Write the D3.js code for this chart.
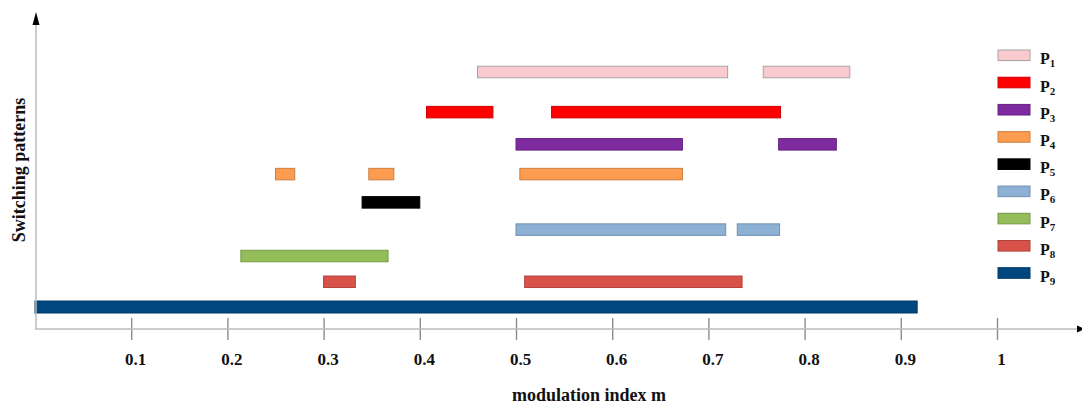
<!DOCTYPE html>
<html><head><meta charset="utf-8">
<script src="https://cdn.jsdelivr.net/npm/d3@7"></script>
<style>html,body{margin:0;padding:0;background:#fff;} svg{display:block;}</style>
</head><body><svg id="chart" width="1082" height="408"></svg>
<script>
// ---- data ----
const patterns   = ["P1","P2","P3","P4","P5","P6","P7","P8","P9"];
const subscripts = ["1","2","3","4","5","6","7","8","9"];
const patternColors = ["#f9cbcf","#ff0000","#7e2ba0","#fc9c50","#000000","#8db1d5","#93bd58","#d9524a","#00467f"];
// intervals of modulation index m where each pattern is used: [start, end]
const segP1 = [[0.460,0.720],[0.757,0.847]];
const segP2 = [[0.407,0.476],[0.537,0.775]];
const segP3 = [[0.500,0.673],[0.773,0.833]];
const segP4 = [[0.250,0.270],[0.347,0.373],[0.504,0.673]];
const segP5 = [[0.340,0.400]];
const segP6 = [[0.500,0.718],[0.730,0.774]];
const segP7 = [[0.214,0.367]];
const segP8 = [[0.300,0.333],[0.509,0.735]];
const segP9 = [[0.000,0.917]];
const segments = [segP1,segP2,segP3,segP4,segP5,segP6,segP7,segP8,segP9];
const xTicks = [0.1,0.2,0.3,0.4,0.5,0.6,0.7,0.8,0.9,1];
const xTickLabels = ["0.1","0.2","0.3","0.4","0.5","0.6","0.7","0.8","0.9","1"];
const xTitle = "modulation index m";
const yTitle = "Switching patterns";

// ---- chart ----
const svg = d3.select("#chart");
const font = "'Liberation Serif','Times New Roman',serif";
const x = d3.scaleLinear().domain([0,1]).range([35,997]);
const rowY = d3.scalePow().exponent(0.85).domain([0, patterns.length-1]).range([72,307]);
const legY = d3.scaleLinear().domain([0, patterns.length-1]).range([55.3,273]);
const axisY = 329;

// bars
const flat = [];
segments.forEach((segs,i)=>segs.forEach(s=>flat.push({i, s0:s[0], s1:s[1]})));
const barH = i => i === patterns.length-1 ? 12 : 11.5;
svg.append("g").selectAll("rect").data(flat).join("rect")
  .attr("x", d=>x(d.s0))
  .attr("width", d=>x(d.s1)-x(d.s0))
  .attr("y", d=>rowY(d.i)-barH(d.i)/2)
  .attr("height", d=>barH(d.i))
  .attr("fill", d=>patternColors[d.i])
  .attr("stroke", d=>d.i===0 ? "#a9a0a1" : d3.color(patternColors[d.i]).darker(0.6))
  .attr("stroke-width", 1);

// x axis ticks and labels
const xAxis = d3.axisBottom(x).tickValues(xTicks)
  .tickFormat((d,k)=>xTickLabels[k]).tickSize(22).tickPadding(13);
const gx = svg.append("g").attr("transform", `translate(0,318)`).call(xAxis);
gx.select(".domain").remove();
gx.selectAll(".tick line").attr("stroke","#8c8c8c").attr("stroke-width",1.4);
gx.selectAll(".tick text").attr("font-family",font).attr("font-weight","bold")
  .attr("font-size",17).attr("fill","#111").attr("dx",4);

// axis lines
svg.append("line").attr("x1",35).attr("x2",1078).attr("y1",axisY).attr("y2",axisY)
  .attr("stroke","#bdbdbd").attr("stroke-width",1.5);
svg.append("line").attr("x1",36).attr("x2",36).attr("y1",axisY).attr("y2",22)
  .attr("stroke","#bdbdbd").attr("stroke-width",1.5);
svg.append("path").attr("d","M36,12 L39.5,25 L32.5,25 Z").attr("fill","#000");
svg.append("path").attr("d","M1085,329 L1077,325.5 L1077,332.5 Z").attr("fill","#000");

// titles
svg.append("text").attr("x",589).attr("y",401).attr("text-anchor","middle")
  .attr("font-family",font).attr("font-weight","bold").attr("font-size",18)
  .attr("fill","#111").text(xTitle);
svg.append("text").attr("transform","translate(25,170) rotate(-90)")
  .attr("text-anchor","middle").attr("font-family",font).attr("font-weight","bold")
  .attr("font-size",18).attr("fill","#111").text(yTitle);

// legend
const leg = svg.append("g").selectAll("g").data(patterns).join("g")
  .attr("transform",(d,i)=>`translate(998,${legY(i)})`);
leg.append("rect").attr("x",0).attr("y",-5.3).attr("width",32).attr("height",10.6)
  .attr("fill",(d,i)=>patternColors[i])
  .attr("stroke",(d,i)=>i===0 ? "#a9a0a1" : d3.color(patternColors[i]).darker(0.6))
  .attr("stroke-width",1);
const lt = leg.append("text").attr("x",42).attr("y",9)
  .attr("font-family",font).attr("font-weight","bold").attr("font-size",16).attr("fill","#111");
lt.append("tspan").text("P");
lt.append("tspan").attr("font-size",11).attr("dy",3).text((d,i)=>subscripts[i]);
</script></body></html>
